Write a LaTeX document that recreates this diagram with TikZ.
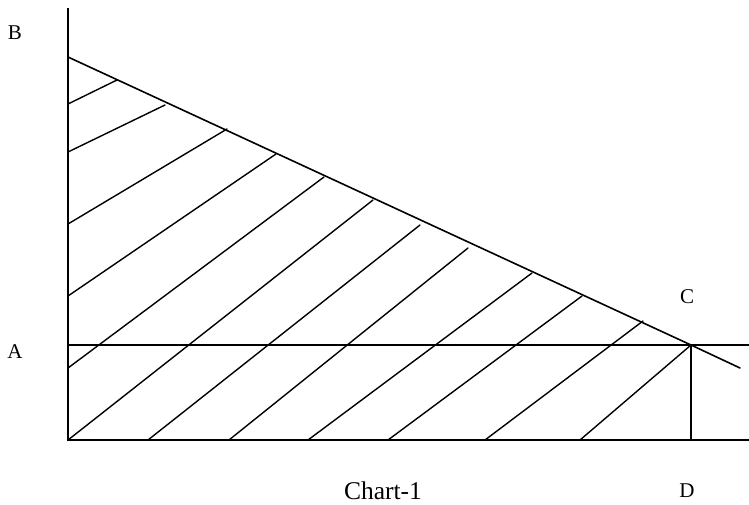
\documentclass[tikz,border=0pt]{standalone}
\usepackage{fontspec}
\setmainfont{Liberation Serif}
\usetikzlibrary{positioning}

\begin{document}
\begin{tikzpicture}[x=1pt, y=-1pt, line width=1.6pt, line cap=round,
  lbl/.style={font=\fontsize{21}{21}\selectfont, inner sep=0pt},
  hatch/.style={line width=1.4pt}]
  \useasboundingbox (0,0) rectangle (749,504);
  % points of the chart
  \coordinate (O) at (68,440);
  \coordinate (top) at (68,8);
  \coordinate (B) at (68,57);
  \coordinate (C) at (691,345);
  \coordinate (Bend) at (740,368);
  \coordinate (A) at (68,345);
  \coordinate (Aend) at (749,345);
  \coordinate (Xend) at (749,440);
  \coordinate (D) at (691,440);
  % labels
  \node[lbl] (lblB) at (15,33) {B};
  \node[lbl] (lblA) at (15,352) {A};
  \node[lbl] (lblC) at (687,297) {C};
  \node[lbl] (lblD) at (687,491) {D};
  \node[lbl, font=\fontsize{25.5}{25.5}\selectfont] (caption) at (383,491) {Chart-1};
  % axes and lines
  \draw[line cap=butt] (top) -- (O) -- (Xend);
  \draw (A) -- (Aend);
  \draw (B) -- (C) -- (Bend);
  \draw (C) -- (D);
  % hatching
  \foreach \xa/\ya/\xb/\yb in {68/104/117/80, 68/152/165/105, 68/224/227/129,
      68/296/276/154, 68/368/324/177, 68/440/373/200, 148/440/420/225,
      229/440/468/248, 308/440/532/273, 388/440/582/296, 485/440/643/321,
      580/440/691/345}
    \draw[hatch] (\xa,\ya) -- (\xb,\yb);
\end{tikzpicture}
\end{document}
